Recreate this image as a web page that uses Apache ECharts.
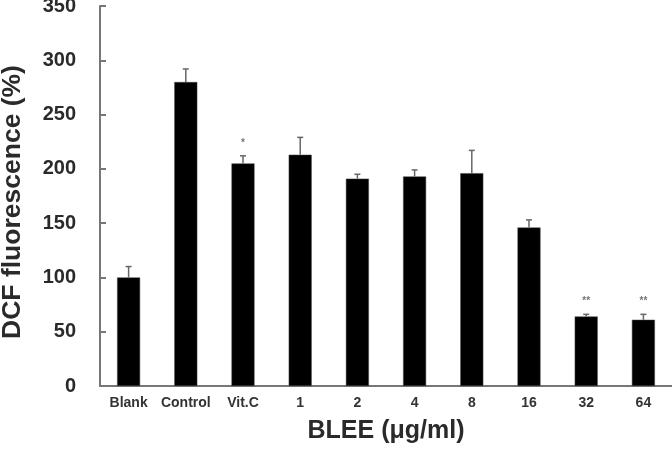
<!DOCTYPE html>
<html>
<head>
<meta charset="utf-8">
<script src="https://cdn.jsdelivr.net/npm/echarts@6/dist/echarts.min.js"></script>
<style>
  html, body { margin: 0; padding: 0; background: #fff; }
  #chart { width: 672px; height: 454px; }
</style>
</head>
<body>
<div id="chart"></div>
<script>
const categories = ["Blank", "Control", "Vit.C", "1", "2", "4", "8", "16", "32", "64"];
const means = [100, 280, 205, 213, 191, 193, 196, 146, 64, 61];
const errors = [10, 12, 7, 16, 4, 6, 21, 7, 2, 5];
const marks = ["", "", "*", "", "", "", "", "", "**", "**"];
const yTicks = { min: 0, max: 350, interval: 50 };

const chartDom = document.getElementById("chart");
const myChart = echarts.init(chartDom);

const textColor = "#2a2a2a";
const errData = categories.map((c, i) => [i, means[i], errors[i], marks[i]]);

const option = {
  animation: false,
  grid: { left: 100, right: 0, top: 6, bottom: 68, containLabel: false, outerBoundsMode: "none" },
  xAxis: {
    type: "category",
    data: categories,
    name: "BLEE (μg/ml)",
    nameLocation: "middle",
    nameGap: 33,
    nameTextStyle: { fontFamily: "Liberation Sans", fontWeight: "bold", fontSize: 25, color: textColor },
    axisLine: { lineStyle: { color: "#777", width: 2 } },
    axisTick: { show: false },
    axisLabel: { fontFamily: "Liberation Sans", fontWeight: "bold", fontSize: 14, color: "#333", margin: 10, interval: 0 },
  },
  yAxis: {
    type: "value",
    min: yTicks.min,
    max: yTicks.max,
    interval: yTicks.interval,
    name: "DCF fluorescence (%)",
    nameLocation: "middle",
    nameGap: 74,
    nameTextStyle: { fontFamily: "Liberation Sans", fontWeight: "bold", fontSize: 26.5, color: textColor, padding: [0, 12, 0, 0] },
    axisLine: { show: true, lineStyle: { color: "#777", width: 2 } },
    axisTick: { show: true, inside: true, length: 6, lineStyle: { color: "#777", width: 2 } },
    splitLine: { show: false },
    axisLabel: { fontFamily: "Liberation Sans", fontWeight: "bold", fontSize: 20, color: textColor, margin: 24 },
  },
  series: [
    {
      type: "bar",
      data: means,
      barWidth: 23,
      itemStyle: { color: "#000", borderColor: "#444", borderWidth: 0.5 },
    },
    {
      type: "custom",
      data: errData,
      z: 3,
      renderItem: function (params, api) {
        const idx = api.value(0);
        const base = api.coord([idx, api.value(1)]);
        const top = api.coord([idx, api.value(1) + api.value(2)]);
        const children = [
          {
            type: "line",
            shape: { x1: base[0], y1: base[1], x2: top[0], y2: top[1] },
            style: { stroke: "#666", lineWidth: 1.5 },
          },
          {
            type: "line",
            shape: { x1: top[0] - 3, y1: top[1], x2: top[0] + 3, y2: top[1] },
            style: { stroke: "#666", lineWidth: 1.5 },
          },
        ];
        const mark = errData[params.dataIndex][3];
        if (mark) {
          children.push({
            type: "text",
            style: {
              text: mark,
              x: top[0],
              y: top[1] - 13,
              align: "center",
              verticalAlign: "middle",
              fill: "#777",
              font: "bold 10px Liberation Sans",
            },
          });
        }
        return { type: "group", children: children };
      },
    },
  ],
};

option && myChart.setOption(option);
</script>
</body>
</html>
